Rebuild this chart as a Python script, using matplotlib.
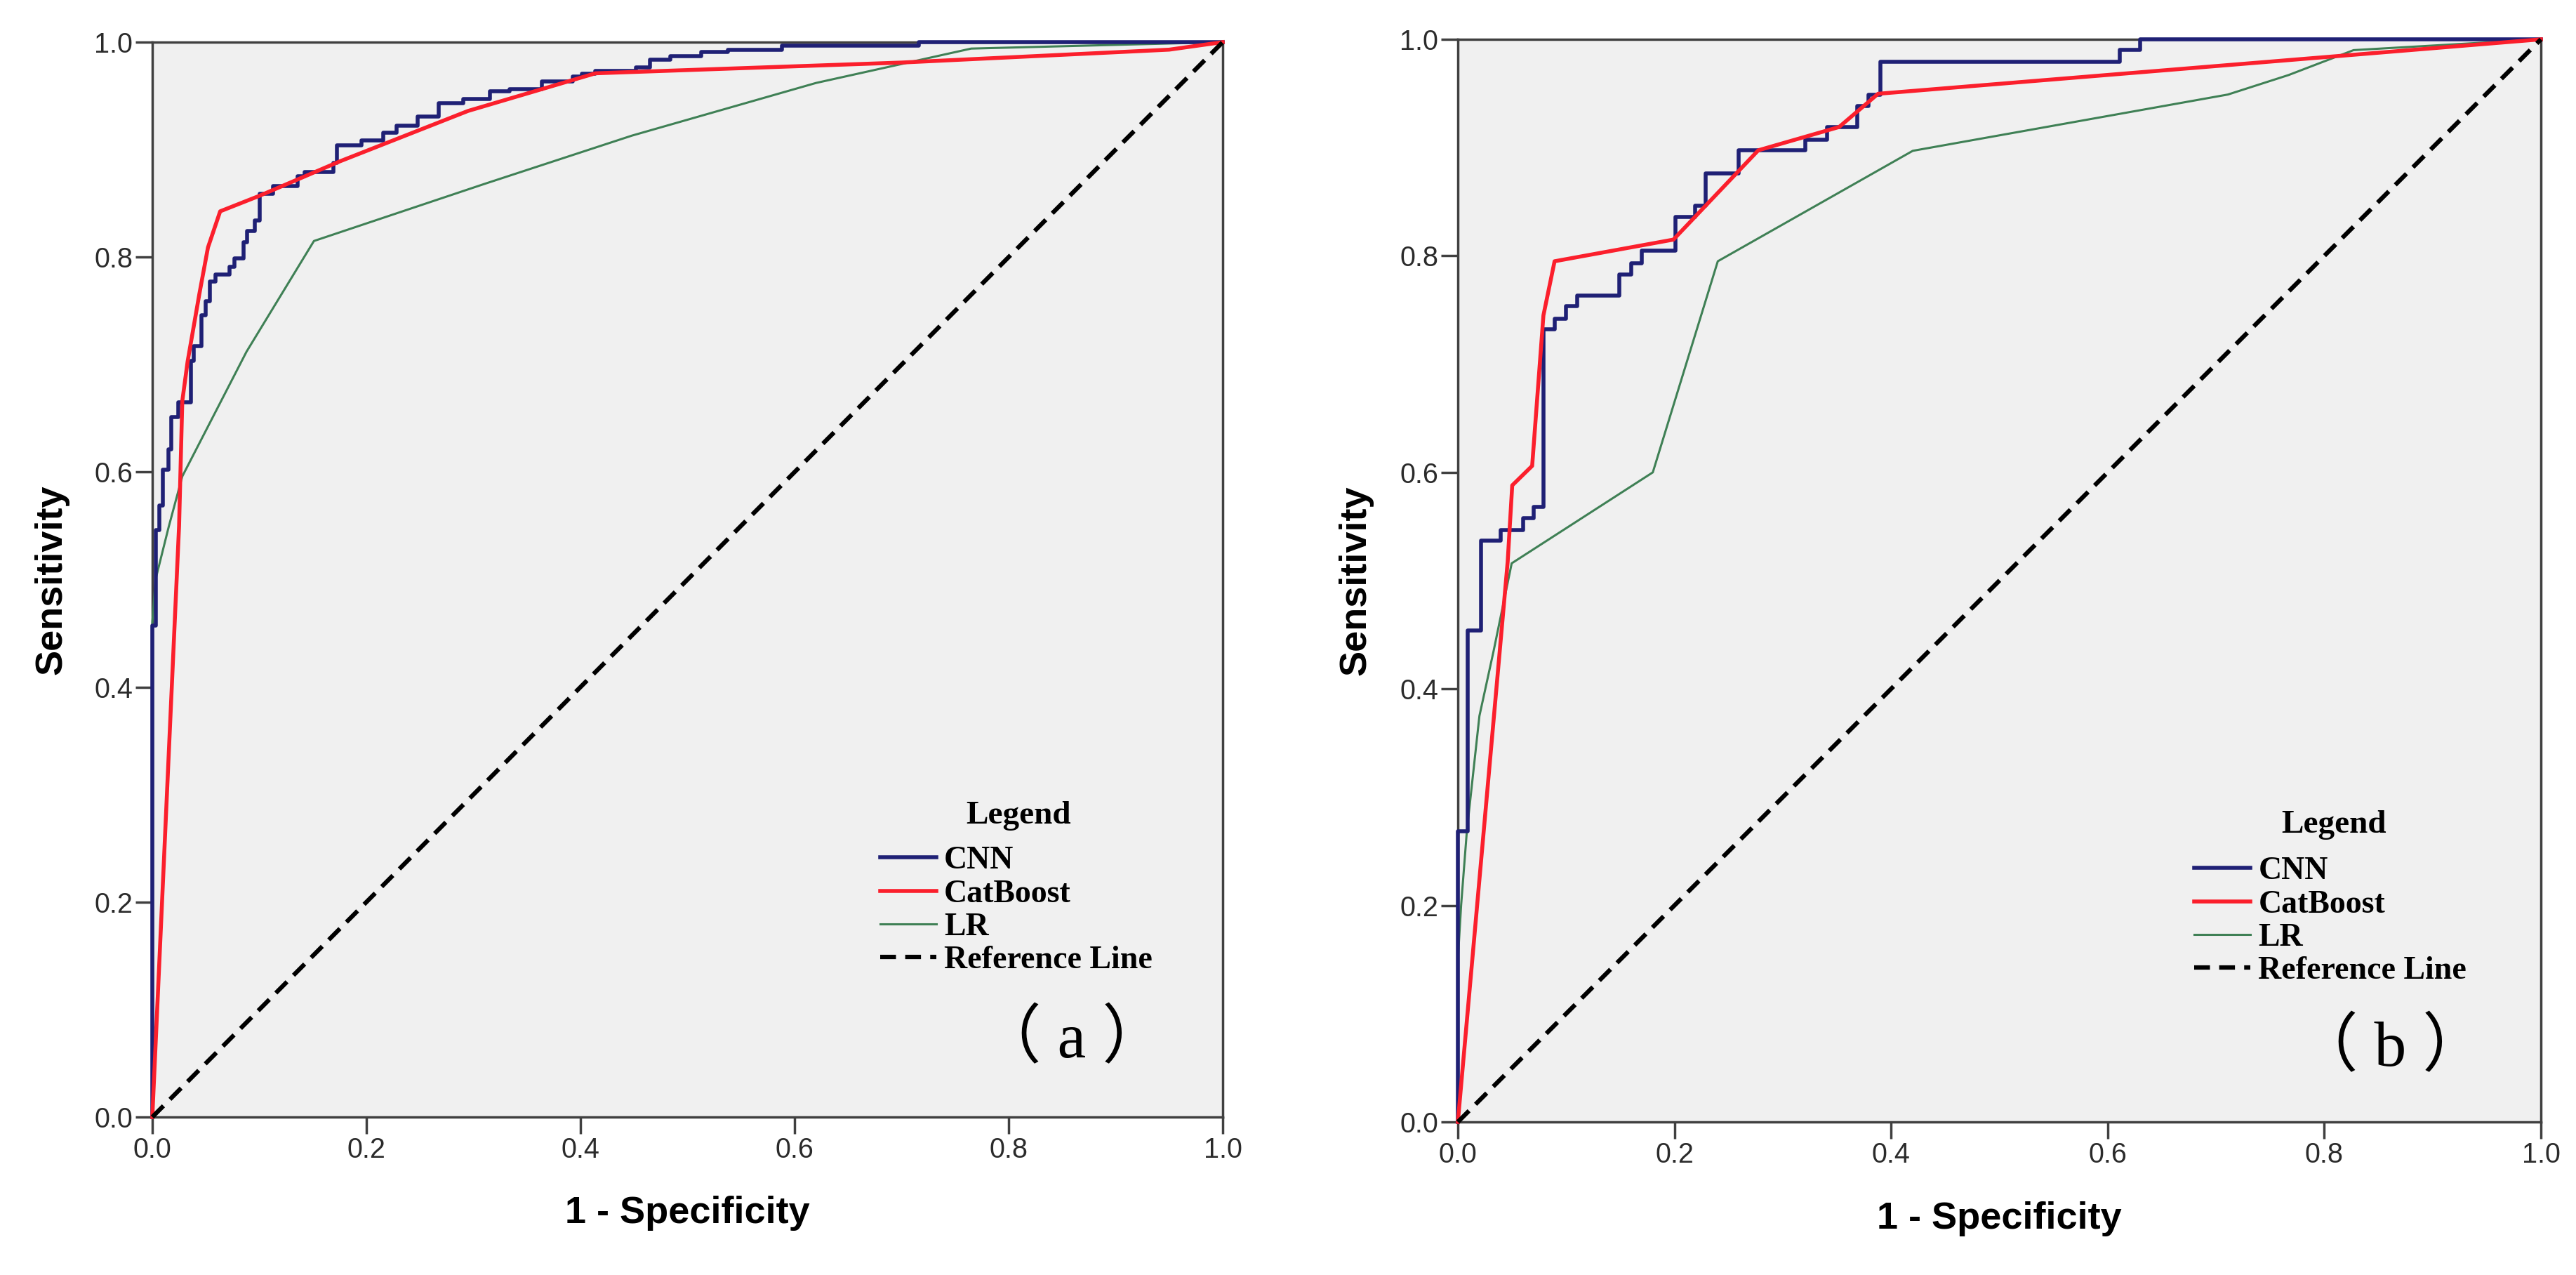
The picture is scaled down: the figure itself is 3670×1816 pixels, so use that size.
import numpy as np
import matplotlib
matplotlib.use("Agg")
import matplotlib.pyplot as plt
from matplotlib.font_manager import FontProperties

# ---- data ----
# panel (a)
cnn_a_fpr = [0, 0.0032, 0.0066, 0.0098, 0.0153, 0.0175, 0.024, 0.036, 0.039, 0.046,
             0.050, 0.0535, 0.059, 0.072, 0.0765, 0.085, 0.0885, 0.096, 0.1005, 0.1126,
             0.1355, 0.142, 0.169, 0.1727, 0.1956, 0.216, 0.228, 0.248, 0.2675, 0.2905,
             0.3156, 0.334, 0.3637, 0.393, 0.401, 0.414, 0.452, 0.465, 0.484, 0.513,
             0.538, 0.588, 0.716, 1.0]
cnn_a_tpr = [0, 0.457, 0.546, 0.569, 0.602, 0.621, 0.651, 0.665, 0.7035, 0.7175,
             0.746, 0.759, 0.777, 0.784, 0.791, 0.799, 0.814, 0.824, 0.834, 0.859,
             0.866, 0.875, 0.879, 0.8875, 0.9037, 0.9087, 0.916, 0.922, 0.931, 0.943,
             0.947, 0.9546, 0.956, 0.9634, 0.9677, 0.9707, 0.9735, 0.9765, 0.9837, 0.987,
             0.991, 0.993, 0.997, 1.0]
cat_a_fpr = [0, 0.025, 0.028, 0.033, 0.044, 0.052, 0.0634, 0.10, 0.175, 0.295, 0.414, 0.70, 0.95, 1.0]
cat_a_tpr = [0, 0.55, 0.666, 0.703, 0.766, 0.809, 0.8426, 0.857, 0.889, 0.936, 0.971, 0.981, 0.993, 1.0]
lr_a_fpr = [0, 0, 0.003, 0.0153, 0.028, 0.088, 0.151, 0.31, 0.448, 0.62, 0.765, 1.0]
lr_a_tpr = [0, 0.46, 0.50, 0.549, 0.596, 0.712, 0.815, 0.868, 0.913, 0.962, 0.994, 1.0]

# panel (b)
cnn_b_fpr = [0, 0.0089, 0.0215, 0.0397, 0.0604, 0.0698, 0.0789, 0.0893, 0.0997, 0.110,
             0.149, 0.160, 0.170, 0.201, 0.219, 0.229, 0.259, 0.321, 0.341, 0.369,
             0.379, 0.390, 0.611, 0.630, 1.0]
cnn_b_tpr = [0, 0.2685, 0.454, 0.537, 0.547, 0.558, 0.568, 0.732, 0.742, 0.7535,
             0.763, 0.783, 0.793, 0.805, 0.836, 0.846, 0.876, 0.8975, 0.907, 0.919,
             0.9387, 0.949, 0.979, 0.990, 1.0]
cat_b_fpr = [0, 0.046, 0.0502, 0.0686, 0.079, 0.0893, 0.199, 0.2774, 0.352, 0.388, 0.806, 1.0]
cat_b_tpr = [0, 0.5175, 0.588, 0.606, 0.745, 0.795, 0.815, 0.8975, 0.919, 0.9497, 0.984, 1.0]
lr_b_fpr = [0, 0, 0.003, 0.0083, 0.0199, 0.033, 0.0497, 0.18, 0.24, 0.42, 0.711, 0.767, 0.827, 1.0]
lr_b_tpr = [0, 0.15, 0.2, 0.2685, 0.375, 0.435, 0.516, 0.60, 0.795, 0.897, 0.949, 0.967, 0.99, 1.0]

labels = ["CNN", "CatBoost", "LR", "Reference Line"]
ticks = [0.0, 0.2, 0.4, 0.6, 0.8, 1.0]
panel_tags = ["（ a ）", "（ b ）"]

c_cnn = "#1f2075"
c_cat = "#fb1f2c"
c_lr = "#3f8055"
c_frame = "#404040"

W, H = 3670, 1816
fig = plt.figure(figsize=(W / 100, H / 100), dpi=100)

# axes boxes in pixels: left, top, right, bottom
boxes = [(217, 60, 1742, 1591), (2077, 56, 3620, 1598)]
panels = [
    (cnn_a_fpr, cnn_a_tpr, cat_a_fpr, cat_a_tpr, lr_a_fpr, lr_a_tpr),
    (cnn_b_fpr, cnn_b_tpr, cat_b_fpr, cat_b_tpr, lr_b_fpr, lr_b_tpr),
]

leg_font = FontProperties(family="Liberation Serif", weight="bold", size=33)
title_font = FontProperties(family="Liberation Serif", weight="bold", size=34)

for i, (box, data) in enumerate(zip(boxes, panels)):
    l, t, r, b = box
    ax = fig.add_axes([l / W, 1 - b / H, (r - l) / W, (b - t) / H])
    ax.set_facecolor("#f0f0f0")
    cf, ct, kf, kt, gf, gt = data

    h1, = ax.plot(cf, ct, color=c_cnn, lw=4.0, drawstyle="steps-pre", clip_on=False, zorder=4)
    h2, = ax.plot(kf, kt, color=c_cat, lw=4.0, clip_on=False, zorder=5)
    h3, = ax.plot(gf, gt, color=c_lr, lw=2.2, clip_on=False, zorder=3)
    h4, = ax.plot([0, 1], [0, 1], color="black", lw=4.5, dashes=(3.6, 2.1), clip_on=False, zorder=6)

    ax.set_xlim(0, 1)
    ax.set_ylim(0, 1)
    ax.set_xticks(ticks)
    ax.set_yticks(ticks)
    ax.set_xticklabels(["%.1f" % v for v in ticks])
    ax.set_yticklabels(["%.1f" % v for v in ticks])
    for s in ax.spines.values():
        s.set_color(c_frame)
        s.set_linewidth(2.5)
    ax.tick_params(direction="out", length=17, width=2.5, color=c_frame,
                   labelsize=28.5, labelcolor="#2b2b2b", pad=3)
    for lab in ax.get_xticklabels() + ax.get_yticklabels():
        lab.set_family("Liberation Sans")

    ax.set_xlabel("1 - Specificity", family="Liberation Sans", weight="bold", fontsize=39,
                  va="top")
    ax.xaxis.set_label_coords(0.5, -0.0732)
    ax.set_ylabel("Sensitivity", family="Liberation Sans", weight="bold", fontsize=39)
    ax.yaxis.set_label_coords(-0.078, 0.5)

    ax.text(0.809, 0.273 if i == 0 else 0.267, "Legend", fontproperties=title_font,
            ha="center", va="baseline", transform=ax.transAxes)
    ax.legend([h1, h2, h3, h4], labels, prop=leg_font, frameon=False,
              loc="upper left", bbox_to_anchor=(0.680, 0.252 if i == 0 else 0.245),
              borderaxespad=0, borderpad=0, handlelength=1.75, handletextpad=0.24,
              labelspacing=0.115)

    ax.text(0.859 if i == 0 else 0.861, 0.0555 if i == 0 else 0.052, panel_tags[i],
            family=["Liberation Serif", "Noto Sans CJK SC"], fontsize=66,
            ha="center", va="baseline", transform=ax.transAxes)

fig.savefig("out.png", dpi=100, facecolor="white")
